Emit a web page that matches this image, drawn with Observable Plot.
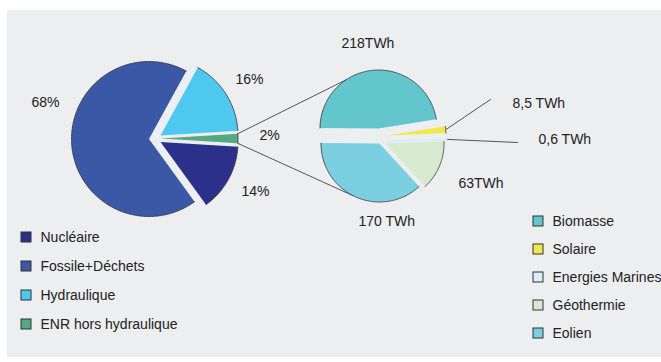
<!DOCTYPE html>
<html>
<head>
<meta charset="utf-8">
<script src="https://cdn.jsdelivr.net/npm/d3@7"></script>
<script src="https://cdn.jsdelivr.net/npm/@observablehq/plot@0.6"></script>
<style>
  html, body { margin: 0; padding: 0; background: #ffffff; }
  svg { display: block; }
</style>
</head>
<body>
<div id="chart"></div>
<script>
// ---- Data ----
const leftCategories = ["Nucléaire", "Fossile+Déchets", "Hydraulique", "ENR hors hydraulique"];
const leftShares = [14, 68, 16, 2];
const leftLabels = ["14%", "68%", "16%", "2%"];
const leftColors = ["#2b318b", "#3a58a6", "#4fc8ef", "#56a883"];

const rightCategories = ["Biomasse", "Solaire", "Energies Marines", "Géothermie", "Eolien"];
const rightValues = [218, 8.5, 0.6, 63, 170];
const rightLabels = ["218TWh", "8,5 TWh", "0,6 TWh", "63TWh", "170 TWh"];
const rightColors = ["#63c6cc", "#eee94c", "#d8eef5", "#d7e9cf", "#7bcfe1"];

// ---- Layout ----
const FONT = "Liberation Sans, Arial, Helvetica, sans-serif";
const leftPie = {cx: 148.5, cy: 138.5, r: 77.5, start: -3.6,
  order: ["ENR hors hydraulique", "Hydraulique", "Fossile+Déchets", "Nucléaire"],
  offsets: {"Nucléaire": [11.5, 3], "Fossile+Déchets": [0, 0], "Hydraulique": [11.5, -3.5], "ENR hors hydraulique": [11.5, -0.5]}};
const rightPie = {cx: 381, cy: 135, r: 58.5, start: 9,
  order: ["Biomasse", "Eolien", "Géothermie", "Energies Marines", "Solaire"],
  offsets: {"Biomasse": [-3, -7], "Eolien": [-2, 8], "Géothermie": [4, 8], "Energies Marines": [6, 6], "Solaire": [6, 0]}};
const leftLabelPos = {"Nucléaire": [241, 191], "Fossile+Déchets": [31, 102], "Hydraulique": [235, 79], "ENR hors hydraulique": [259, 135]};
const rightLabelPos = {"Biomasse": [341, 43], "Solaire": [512, 103], "Energies Marines": [538, 139], "Géothermie": [458, 183], "Eolien": [358, 221]};
const rightLeaderEnds = {"Solaire": [490, 99], "Energies Marines": [517, 142]};

function buildSlices(categories, values, colors, pie) {
  const total = d3.sum(values);
  let a = pie.start;
  const slices = [];
  for (const cat of pie.order) {
    const i = categories.indexOf(cat);
    const span = values[i] / total * 360;
    const [dx, dy] = pie.offsets[cat];
    slices.push({cat, color: colors[i], a0: a, a1: a + span, cx: pie.cx + dx, cy: pie.cy + dy, r: pie.r});
    a += span;
  }
  return slices;
}
function pt(s, deg) {
  const t = deg * Math.PI / 180;
  return {x: s.cx + s.r * Math.cos(t), y: s.cy - s.r * Math.sin(t)};
}
function arcPoints(s) {
  const n = Math.max(2, Math.ceil((s.a1 - s.a0) / 1));
  const pts = [];
  for (let k = 0; k <= n; k++) pts.push(pt(s, s.a0 + (s.a1 - s.a0) * k / n));
  return pts;
}
function slicePolys(slices) {
  const out = [];
  for (const s of slices) {
    out.push({key: s.cat, x: s.cx, y: s.cy, color: s.color});
    for (const p of arcPoints(s)) out.push({key: s.cat, x: p.x, y: p.y, color: s.color});
  }
  return out;
}
function arcLines(slices, skip = []) {
  const out = [];
  for (const s of slices) {
    if (skip.includes(s.cat)) continue;
    for (const p of arcPoints(s)) out.push({key: s.cat, x: p.x, y: p.y});
  }
  return out;
}

const L = buildSlices(leftCategories, leftShares, leftColors, leftPie);
const R = buildSlices(rightCategories, rightValues, rightColors, rightPie);
const byCat = (arr, c) => arr.find(s => s.cat === c);

// connector lines between pies
const enr = byCat(L, "ENR hors hydraulique");
const bio = byCat(R, "Biomasse");
const eol = byCat(R, "Eolien");
const connectors = [
  {key: "up", ...pt(enr, enr.a1)}, {key: "up", ...pt(bio, 124)},
  {key: "down", ...pt(enr, enr.a0)}, {key: "down", ...pt(eol, 243)}
];
const leaders = [];
for (const c of ["Solaire", "Energies Marines"]) {
  const s = byCat(R, c);
  leaders.push({key: c, ...pt(s, (s.a0 + s.a1) / 2)});
  leaders.push({key: c, x: rightLeaderEnds[c][0], y: rightLeaderEnds[c][1]});
}

const labels = [
  ...leftCategories.map((c, i) => ({text: leftLabels[i], x: leftLabelPos[c][0], y: leftLabelPos[c][1]})),
  ...rightCategories.map((c, i) => ({text: rightLabels[i], x: rightLabelPos[c][0], y: rightLabelPos[c][1]}))
];

const legend = [
  ...leftCategories.map((c, i) => ({text: c, color: leftColors[i], x: 21, y: 237 + i * 29})),
  ...rightCategories.map((c, i) => ({text: c, color: rightColors[i], x: 533, y: 221 + i * 28}))
];

const marine = byCat(R, "Energies Marines");

const chart = Plot.plot({
  width: 661, height: 362, margin: 0,
  x: {domain: [0, 661], range: [0, 661], axis: null},
  y: {domain: [0, 362], range: [0, 362], axis: null},
  color: {type: "identity"},
  style: {background: "#ffffff", fontFamily: FONT},
  marks: [
    Plot.rect([0], {x1: 7, x2: 661, y1: 10, y2: 357, fill: "#edeef0"}),
    Plot.line(connectors, {x: "x", y: "y", z: "key", stroke: "#444", strokeWidth: 0.9}),
    Plot.line(leaders, {x: "x", y: "y", z: "key", stroke: "#444", strokeWidth: 0.9}),
    Plot.line(slicePolys(L), {x: "x", y: "y", z: "key", fill: "color", stroke: "none"}),
    Plot.line(slicePolys(R).filter(d => d.key !== "Energies Marines"), {x: "x", y: "y", z: "key", fill: "color", stroke: "none"}),
    Plot.line(slicePolys([marine]), {x: "x", y: "y", z: "key", fill: "color", stroke: "color", strokeWidth: 2.5, strokeLinejoin: "round"}),
    Plot.line(arcLines(L), {x: "x", y: "y", z: "key", stroke: "#333", strokeWidth: 0.8}),
    Plot.line(arcLines(R, ["Energies Marines"]), {x: "x", y: "y", z: "key", stroke: "#333", strokeWidth: 0.8}),
    Plot.text(labels, {x: "x", y: "y", text: "text", textAnchor: "start", lineAnchor: "middle", fontSize: 14, fill: "#222"}),
    Plot.rect(legend, {x1: d => d.x, x2: d => d.x + 10, y1: d => d.y - 5, y2: d => d.y + 5, fill: "color", stroke: "#333", strokeWidth: 1}),
    Plot.text(legend, {x: d => d.x + 19, y: "y", text: "text", textAnchor: "start", lineAnchor: "middle", fontSize: 14, fill: "#222"})
  ]
});
document.getElementById("chart").appendChild(chart);
</script>
</body>
</html>
